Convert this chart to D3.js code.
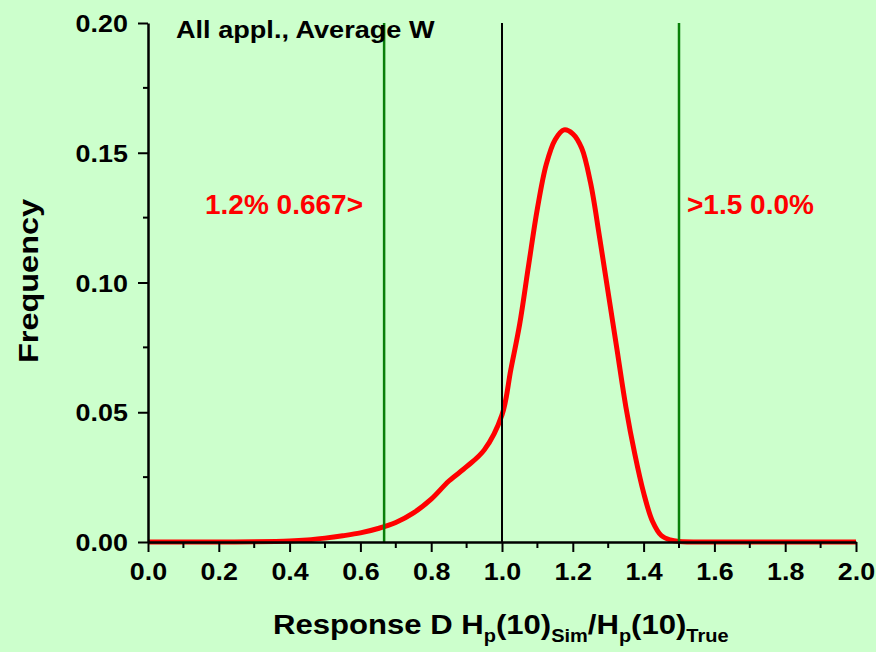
<!DOCTYPE html>
<html><head><meta charset="utf-8">
<script src="https://cdn.jsdelivr.net/npm/d3@7"></script>
<style>
html,body{margin:0;padding:0;background:#ccffcc;}
svg{display:block;font-family:"Liberation Sans",Arial,sans-serif;font-weight:bold;}
</style></head><body>
<svg id="chart" width="876" height="652"></svg>
<script>
const ratio = [0,0.1,0.2,0.3,0.4,0.45,0.5,0.55,0.6,0.65,0.7,0.75,0.8,0.85,0.9,0.95,1.0,1.025,1.05,1.075,1.1,1.125,1.15,1.175,1.2,1.225,1.25,1.275,1.3,1.325,1.35,1.375,1.4,1.425,1.45,1.475,1.5,1.6,1.8,2.0];
const frequency = [0,0,0,0.0001,0.0004,0.0008,0.0015,0.0024,0.0035,0.0052,0.0075,0.0112,0.0165,0.0235,0.0290,0.0355,0.0490,0.0665,0.0840,0.1065,0.1285,0.1455,0.1550,0.1588,0.1573,0.1518,0.1385,0.1180,0.0960,0.0740,0.0520,0.0340,0.0190,0.0080,0.0025,0.0008,0.0002,0,0,0];
const xTicks = [0,0.2,0.4,0.6,0.8,1.0,1.2,1.4,1.6,1.8,2.0];
const yTicks = [0,0.05,0.10,0.15,0.20];
const limitLines = [0.667,1.5];
const refLine = 1.0;
const labelLow = "1.2% 0.667>";
const labelHigh = ">1.5 0.0%";
const title = "All appl., Average W";

const svg = d3.select("#chart");
svg.append("rect").attr("width",876).attr("height",652).attr("fill","#ccffcc");

const x = d3.scaleLinear().domain([0,2]).range([148,856]);
const y = d3.scaleLinear().domain([0,0.2]).range([542,23]);

// curve
const line = d3.line().x((d,i)=>x(ratio[i])).y(d=>y(d)).curve(d3.curveCatmullRom.alpha(0.5));
svg.append("path").datum(frequency).attr("d",line)
  .attr("fill","none").attr("stroke","#ff0000").attr("stroke-width",5).attr("stroke-linejoin","round");

// vertical lines
svg.append("line").attr("x1",x(refLine)).attr("x2",x(refLine)).attr("y1",y(0.2)).attr("y2",y(0))
  .attr("stroke","#000").attr("stroke-width",2);
svg.selectAll(".lim").data(limitLines).enter().append("line")
  .attr("x1",d=>x(d)).attr("x2",d=>x(d)).attr("y1",y(0.2)).attr("y2",y(0))
  .attr("stroke","#0a800a").attr("stroke-width",2.5);

// axes
const xMinor = d3.range(0.1,2.0,0.2);
const yMinor = [0.025,0.075,0.125,0.175];
const xAxis = d3.axisBottom(x).tickValues(xTicks).tickFormat(d3.format(".1f")).tickSize(10).tickSizeOuter(0).tickPadding(11);
const gx = svg.append("g").attr("transform",`translate(0,${y(0)})`).call(xAxis);
gx.selectAll(".minor").data(xMinor).enter().append("line").attr("class","minor")
  .attr("x1",d=>x(d)).attr("x2",d=>x(d)).attr("y1",0).attr("y2",6).attr("stroke","#000").attr("stroke-width",2);
const yAxis = d3.axisLeft(y).tickValues(yTicks).tickFormat(d3.format(".2f")).tickSize(10).tickSizeOuter(0).tickPadding(8);
const gy = svg.append("g").attr("transform",`translate(${x(0)},0)`).call(yAxis);
gy.selectAll(".minor").data(yMinor).enter().append("line").attr("class","minor")
  .attr("y1",d=>y(d)).attr("y2",d=>y(d)).attr("x1",0).attr("x2",-5).attr("stroke","#000").attr("stroke-width",2);
[gx,gy].forEach(g=>{
  g.select(".domain").attr("stroke","#000").attr("stroke-width",2.5);
  g.selectAll(".tick line").attr("stroke","#000").attr("stroke-width",2);
  g.selectAll(".tick text").attr("fill","#000").attr("font-size",24).attr("font-family","Liberation Sans, Arial, sans-serif").attr("font-weight","bold");
});
gx.selectAll(".tick text").attr("transform","scale(1.12,1)").attr("dy","0.71em");
gy.selectAll(".tick text").attr("dy","0.36em").attr("x",-18).attr("transform","scale(1.12,1)");

// title
svg.append("text").attr("transform","translate(176,38) scale(1.13,1)").attr("font-size",24).attr("fill","#000").text(title);

// red labels
svg.append("text").attr("x",205).attr("y",214).attr("font-size",28).attr("fill","#ff0000").text(labelLow);
svg.append("text").attr("x",687).attr("y",214).attr("font-size",28).attr("fill","#ff0000").text(labelHigh);

// axis titles
svg.append("text").attr("transform","translate(38,281) rotate(-90) scale(1.16,1)").attr("text-anchor","middle")
  .attr("font-size",28).attr("fill","#000").text("Frequency");
const xt = svg.append("text").attr("transform","translate(273,634) scale(1.11,1)").attr("font-size",28).attr("fill","#000");
xt.append("tspan").text("Response D H");
xt.append("tspan").attr("font-size",18).attr("dy",8).text("p");
xt.append("tspan").attr("dy",-8).text("(10)");
xt.append("tspan").attr("font-size",18).attr("dy",8).text("Sim");
xt.append("tspan").attr("dy",-8).text("/H");
xt.append("tspan").attr("font-size",18).attr("dy",8).text("p");
xt.append("tspan").attr("dy",-8).text("(10)");
xt.append("tspan").attr("font-size",18).attr("dy",8).text("True");
</script>
</body></html>
